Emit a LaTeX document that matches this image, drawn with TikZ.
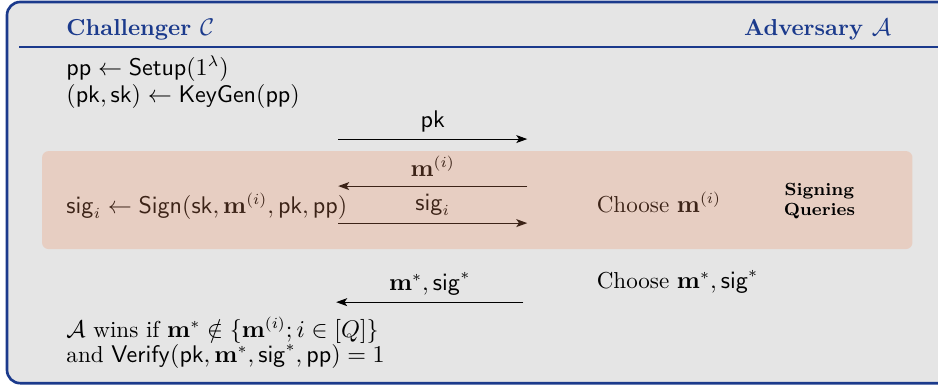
\documentclass[tikz,border=0pt]{standalone}
\usepackage{amsmath,amssymb}
\usepackage{tikz}
\usetikzlibrary{arrows.meta}
\definecolor{framec}{HTML}{1B3A8C}
\definecolor{panelc}{HTML}{E5E5E5}
\definecolor{queryc}{HTML}{F08D5D}
\tikzset{
  frame/.style={draw=framec, line width=1.2pt, fill=panelc, rounded corners=6pt},
  party/.style={font=\fontsize{10.5}{12.6}\selectfont\bfseries, text=framec, inner sep=0pt},
  line/.style={anchor=base west, inner sep=0pt},
  msg/.style={-{Stealth[length=5pt,width=3.6pt,inset=1.2pt]}, line width=0.5pt},
  msglabel/.style={anchor=base, inner sep=0pt},
  queries/.style={fill=queryc, fill opacity=0.25, rounded corners=3pt},
}

\begin{document}
\begin{tikzpicture}[font=\fontsize{10.5}{12.6}\selectfont]
\useasboundingbox (0,0) rectangle (15.000,6.208);
\clip (0,0) rectangle (15.000,6.208);
\draw[frame] (0.112,0.080) rectangle (15.400,6.176);
\draw[framec, line width=0.9pt] (0.304,5.456) -- (15.000,5.456);
\node[party, anchor=base west] (chal) at (1.056,5.648) {Challenger $\mathcal{C}$};
\node[party, anchor=base east] (adv) at (14.256,5.648) {Adversary $\mathcal{A}$};
% challenger side
\node[line] (setup) at (1.056,5.008) {$\mathsf{pp} \leftarrow \mathsf{Setup}(1^\lambda)$};
\node[line] (keygen) at (1.056,4.576) {$(\mathsf{pk},\mathsf{sk}) \leftarrow \mathsf{KeyGen}(\mathsf{pp})$};
\node[line] (sign) at (1.056,2.800) {$\mathsf{sig}_i \leftarrow \mathsf{Sign}(\mathsf{sk},\mathbf{m}^{(i)},\mathsf{pk},\mathsf{pp})$};
\node[line] (wins) at (1.056,0.816) {$\mathcal{A}$ wins if $\mathbf{m}^* \notin \{\mathbf{m}^{(i)}; i\in[Q]\}$};
\node[line] (verify) at (1.056,0.416) {and $\mathsf{Verify}(\mathsf{pk},\mathbf{m}^*,\mathsf{sig}^*,\mathsf{pp}) = 1$};
% adversary side
\node[line] (choosei) at (9.536,2.816) {Choose $\mathbf{m}^{(i)}$};
\node[line] (choosestar) at (9.536,1.600) {Choose $\mathbf{m}^*,\mathsf{sig}^*$};
% messages
\coordinate (pkL) at (5.408,3.984);
\coordinate (pkR) at (8.432,3.984);
\coordinate (mL) at (5.408,3.232);
\coordinate (mR) at (8.432,3.232);
\coordinate (sL) at (5.408,2.640);
\coordinate (sR) at (8.432,2.640);
\coordinate (fL) at (5.376,1.376);
\coordinate (fR) at (8.368,1.376);
\draw[msg] (pkL) -- (pkR);
\node[msglabel] (pk) at (6.920,4.176) {$\mathsf{pk}$};
\draw[msg] (mR) -- (mL);
\node[msglabel] (mi) at (6.920,3.392) {$\mathbf{m}^{(i)}$};
\draw[msg] (sL) -- (sR);
\node[msglabel] (sigi) at (6.920,2.848) {$\mathsf{sig}_i$};
\draw[msg] (fR) -- (fL);
\node[msglabel] (forge) at (6.872,1.568) {$\mathbf{m}^*,\mathsf{sig}^*$};
% signing queries
\fill[queries] (0.672,2.224) rectangle (14.592,3.792);
\node[align=center, font=\footnotesize\bfseries, inner sep=0pt] (oracle) at (13.104,2.992) {Signing\\Queries};
\end{tikzpicture}
\end{document}
